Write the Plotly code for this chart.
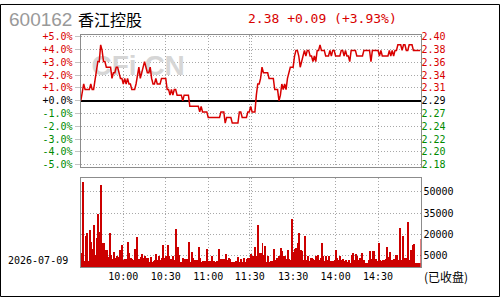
import plotly.graph_objects as go

# ---------------- data ----------------
stock_code = "600162"
stock_name = "香江控股"
prev_close = 2.29
last_price = 2.38
date_label = "2026-07-09"
status_label = "(已收盘)"
watermark = "CFi.CN"

# one value per trading minute (09:30-11:30, 13:00-15:00)
price = [
    2.29, 2.31, 2.32, 2.31, 2.31, 2.31, 2.31, 2.32, 2.31, 2.31,
    2.33, 2.34, 2.36, 2.36, 2.39, 2.38, 2.36, 2.36, 2.35, 2.35,
    2.35, 2.35, 2.33, 2.34, 2.34, 2.35, 2.35, 2.34, 2.33, 2.33,
    2.32, 2.33, 2.32, 2.33, 2.32, 2.32, 2.31, 2.31, 2.31, 2.32,
    2.34, 2.35, 2.33, 2.34, 2.35, 2.36, 2.35, 2.34, 2.34, 2.35,
    2.33, 2.32, 2.32, 2.33, 2.32, 2.32, 2.32, 2.33, 2.33, 2.33,
    2.33, 2.31, 2.31, 2.30, 2.31, 2.30, 2.31, 2.31, 2.30, 2.30,
    2.30, 2.30, 2.29, 2.30, 2.30, 2.30, 2.30, 2.28, 2.28, 2.28,
    2.28, 2.28, 2.28, 2.28, 2.27, 2.28, 2.27, 2.27, 2.27, 2.27,
    2.26, 2.26, 2.26, 2.26, 2.26, 2.26, 2.26, 2.26, 2.26, 2.27,
    2.27, 2.27, 2.25, 2.26, 2.26, 2.26, 2.26, 2.25, 2.25, 2.25,
    2.25, 2.25, 2.27, 2.27, 2.26, 2.26, 2.26, 2.26, 2.27, 2.27,
    2.28, 2.27, 2.27, 2.27, 2.30, 2.32, 2.32, 2.33, 2.35, 2.34,
    2.34, 2.34, 2.34, 2.33, 2.33, 2.33, 2.33, 2.31, 2.31, 2.31,
    2.29, 2.30, 2.32, 2.31, 2.32, 2.31, 2.33, 2.34, 2.35, 2.35,
    2.35, 2.37, 2.38, 2.38, 2.37, 2.35, 2.36, 2.37, 2.38, 2.37,
    2.38, 2.38, 2.37, 2.37, 2.36, 2.37, 2.36, 2.38, 2.38, 2.39,
    2.38, 2.38, 2.38, 2.37, 2.37, 2.37, 2.38, 2.37, 2.38, 2.38,
    2.37, 2.37, 2.37, 2.37, 2.38, 2.38, 2.37, 2.38, 2.37, 2.37,
    2.36, 2.38, 2.38, 2.38, 2.38, 2.37, 2.37, 2.37, 2.37, 2.37,
    2.38, 2.38, 2.38, 2.38, 2.38, 2.36, 2.38, 2.38, 2.38, 2.38,
    2.38, 2.37, 2.38, 2.37, 2.37, 2.37, 2.37, 2.37, 2.38, 2.37,
    2.38, 2.37, 2.38, 2.38, 2.39, 2.39, 2.39, 2.38, 2.39, 2.39,
    2.38, 2.38, 2.39, 2.39, 2.39, 2.38, 2.38, 2.38, 2.38, 2.38,
    2.38,
]

# volume per minute, in thousands of shares
volume_k = [
    7.0, 56.5, 1.5, 18.9, 20.7, 1.5, 23.0, 15.0, 9.8, 26.3,
    5.9, 17.3, 34.3, 21.8, 54.7, 13.9, 13.9, 8.9, 8.9, 4.3,
    20.7, 5.7, 3.0, 8.0, 3.6, 4.8, 4.3, 9.3, 4.8, 12.7,
    2.0, 3.0, 2.5, 14.5, 7.0, 3.6, 3.0, 2.0, 9.8, 17.9,
    2.0, 3.0, 4.3, 6.4, 3.6, 5.2, 3.6, 3.6, 0.7, 4.3,
    0.7, 1.4, 2.0, 6.4, 2.0, 4.8, 2.0, 3.6, 12.7, 3.6,
    5.2, 12.7, 5.2, 3.0, 2.0, 5.2, 2.0, 23.4, 11.1, 5.9,
    0.7, 0.7, 3.6, 3.0, 2.5, 3.0, 15.0, 0.7, 7.5, 3.6,
    2.0, 0.7, 2.0, 11.1, 3.6, 0.7, 1.6, 1.6, 1.6, 9.8,
    1.4, 1.6, 5.2, 1.6, 1.4, 0.7, 1.6, 9.8, 1.6, 3.0,
    3.0, 3.0, 6.4, 2.0, 3.6, 3.0, 0.7, 0.7, 0.7, 1.4,
    0.7, 4.3, 0.7, 2.5, 0.7, 3.6, 0.7, 3.0, 3.6, 3.6,
    6.6, 5.2, 3.6, 11.1, 5.2, 26.3, 7.0, 7.0, 13.9, 5.9,
    12.0, 0.7, 4.8, 0.7, 1.4, 1.4, 9.8, 2.0, 3.6, 0.7,
    4.8, 10.4, 8.2, 4.8, 4.8, 3.0, 9.3, 3.0, 2.0, 30.9,
    7.5, 9.8, 10.4, 14.3, 20.7, 8.9, 8.2, 2.0, 18.9, 2.0,
    4.8, 1.4, 3.6, 3.6, 3.0, 2.0, 4.8, 5.9, 2.0, 3.6,
    13.9, 4.8, 1.4, 5.2, 2.0, 4.8, 1.4, 1.4, 1.4, 2.0,
    8.9, 3.6, 2.0, 5.2, 2.0, 3.0, 1.4, 2.0, 0.7, 2.0,
    0.2, 5.9, 7.0, 2.0, 6.6, 4.8, 2.0, 3.6, 7.0, 2.0,
    2.0, 0.2, 0.2, 2.0, 8.2, 3.0, 8.2, 8.2, 3.0, 1.4,
    14.3, 2.0, 1.4, 2.0, 2.0, 3.0, 11.1, 4.3, 7.5, 2.0,
    2.0, 3.0, 5.9, 5.9, 2.0, 24.7, 2.0, 18.9, 2.0, 3.6,
    3.6, 28.6, 2.0, 8.9, 12.7, 13.2, 0.2, 0.0, 0.0, 0.0,
    16.6,
]

time_ticks = [30, 60, 90, 119.3, 120.5, 150, 180, 210]
time_labels = ["10:00", "10:30", "11:00", "11:30", "", "13:30", "14:00", "14:30"]
pct_ticks = [5, 4, 3, 2, 1, 0, -1, -2, -3, -4, -5]
vol_ticks = [5000, 20000, 35000, 50000]

# ---------------- styling ----------------
W, H = 500, 300
RED = "#d80000"
GREEN = "#008a00"
GRID = "#a8a8a8"
BORDER = "#8c8c8c"
MONO = "DejaVu Sans Mono"
CJK = "Noto Sans CJK SC"

def px_x(p):
    return p / W

def px_y(p):
    return 1 - p / H

x_dom = [px_x(80.5), px_x(420.5)]
main_dom = [px_y(167.3), px_y(31.7)]
vol_dom = [px_y(269.7), px_y(178.3)]
x_range = [-0.25, 240.0]
pct_range = [-5.21, 5.14]
VOL_BASE = -2980
VOL_TOP = 59360

minutes = list(range(len(price)))
pct = [(p / prev_close - 1) * 100 for p in price]


def colored(txt, v):
    c = RED if v > 0 else (GREEN if v < 0 else "#000000")
    return f"<span style='color:{c}'>{txt}</span>"


left_text = [colored(f"{p:+.1f}%", p) for p in pct_ticks]
right_text = [colored(f"{prev_close * (1 + p / 100):.2f}", p) for p in pct_ticks]

change = last_price - prev_close
chg_pct = change / prev_close * 100
quote = f"{last_price:.2f} {change:+.2f} ({chg_pct:+.2f}%)"

fig = go.Figure()

# watermark (behind the price line)
fig.add_trace(go.Scatter(
    x=[40.5], y=[2.55], mode="text", text=[watermark],
    textfont=dict(family="Liberation Sans", size=28, color="#d6d6d6", weight="bold"),
    hoverinfo="skip", showlegend=False, xaxis="x", yaxis="y", cliponaxis=False,
))

fig.add_trace(go.Scatter(
    x=minutes, y=pct, mode="lines",
    line=dict(color=RED, width=1.5),
    showlegend=False, xaxis="x", yaxis="y",
))

# dummy to register the right-hand price axis
fig.add_trace(go.Scatter(x=[], y=[], xaxis="x", yaxis="y3", showlegend=False))

fig.add_trace(go.Bar(
    x=minutes, y=[v * 1000 - VOL_BASE for v in volume_k], base=VOL_BASE,
    width=0.7, marker=dict(color="#cc0000", line=dict(width=0)),
    showlegend=False, xaxis="x2", yaxis="y2",
))

grid_common = dict(showgrid=True, gridcolor=GRID, gridwidth=1, griddash="1px,2px",
                   showline=True, mirror=True, linecolor=BORDER, linewidth=1)

fig.update_layout(
    width=W, height=H,
    margin=dict(l=0, r=0, t=0, b=0),
    paper_bgcolor="white", plot_bgcolor="white",
    showlegend=False,
    bargap=0,
    xaxis=dict(domain=x_dom, range=x_range, anchor="y",
               tickmode="array", tickvals=time_ticks, showticklabels=False,
               ticks="", zeroline=False, **grid_common),
    yaxis=dict(domain=main_dom, range=pct_range, anchor="x",
               tickmode="array", tickvals=pct_ticks, ticktext=left_text,
               ticks="outside", ticklen=5, tickcolor="#c4c4c4", tickwidth=1,
               tickfont=dict(family=MONO, size=10),
               zeroline=True, zerolinecolor="#000000", zerolinewidth=1.5,
               **grid_common),
    yaxis3=dict(overlaying="y", side="right", anchor="x", range=pct_range,
                tickmode="array", tickvals=pct_ticks, ticktext=right_text,
                ticks="", showgrid=False, zeroline=False, showline=False,
                tickfont=dict(family=MONO, size=10)),
    xaxis2=dict(domain=x_dom, range=x_range, anchor="y2",
                tickmode="array", tickvals=time_ticks, ticktext=time_labels,
                ticks="", zeroline=False,
                tickfont=dict(family=MONO, size=10, color="#000000"),
                **grid_common),
    yaxis2=dict(domain=vol_dom, range=[VOL_BASE, VOL_TOP], anchor="x2", side="right",
                tickmode="array", tickvals=vol_ticks, tickformat="d",
                ticks="", zeroline=False,
                tickfont=dict(family=MONO, size=10, color="#000000"),
                **grid_common),
    annotations=[
        dict(text=stock_code, x=px_x(7), y=px_y(16), xref="paper", yref="paper",
             xanchor="left", yanchor="middle", showarrow=False,
             font=dict(family="Liberation Sans", size=19, color="#999999")),
        dict(text=stock_name, x=px_x(76), y=px_y(15), xref="paper", yref="paper",
             xanchor="left", yanchor="middle", showarrow=False,
             font=dict(family=CJK, size=16, color="#000000")),
        dict(text=quote, x=px_x(246), y=px_y(15), xref="paper", yref="paper",
             xanchor="left", yanchor="middle", showarrow=False,
             font=dict(family=MONO, size=13, color=RED)),
        dict(text=date_label, x=px_x(6), y=px_y(263), xref="paper", yref="paper",
             xanchor="left", yanchor="middle", showarrow=False,
             font=dict(family=MONO, size=10, color="#000000")),
        dict(text=status_label, x=px_x(422), y=px_y(279), xref="paper", yref="paper",
             xanchor="left", yanchor="middle", showarrow=False,
             font=dict(family=CJK, size=12, color="#000000")),
    ],
    shapes=[
        dict(type="rect", xref="paper", yref="paper",
             x0=px_x(0.5), x1=px_x(W - 0.5), y0=px_y(H - 0.5), y1=px_y(0.5),
             line=dict(color="#000000", width=1), fillcolor="rgba(0,0,0,0)"),
    ],
)

fig.write_html("out.html")
